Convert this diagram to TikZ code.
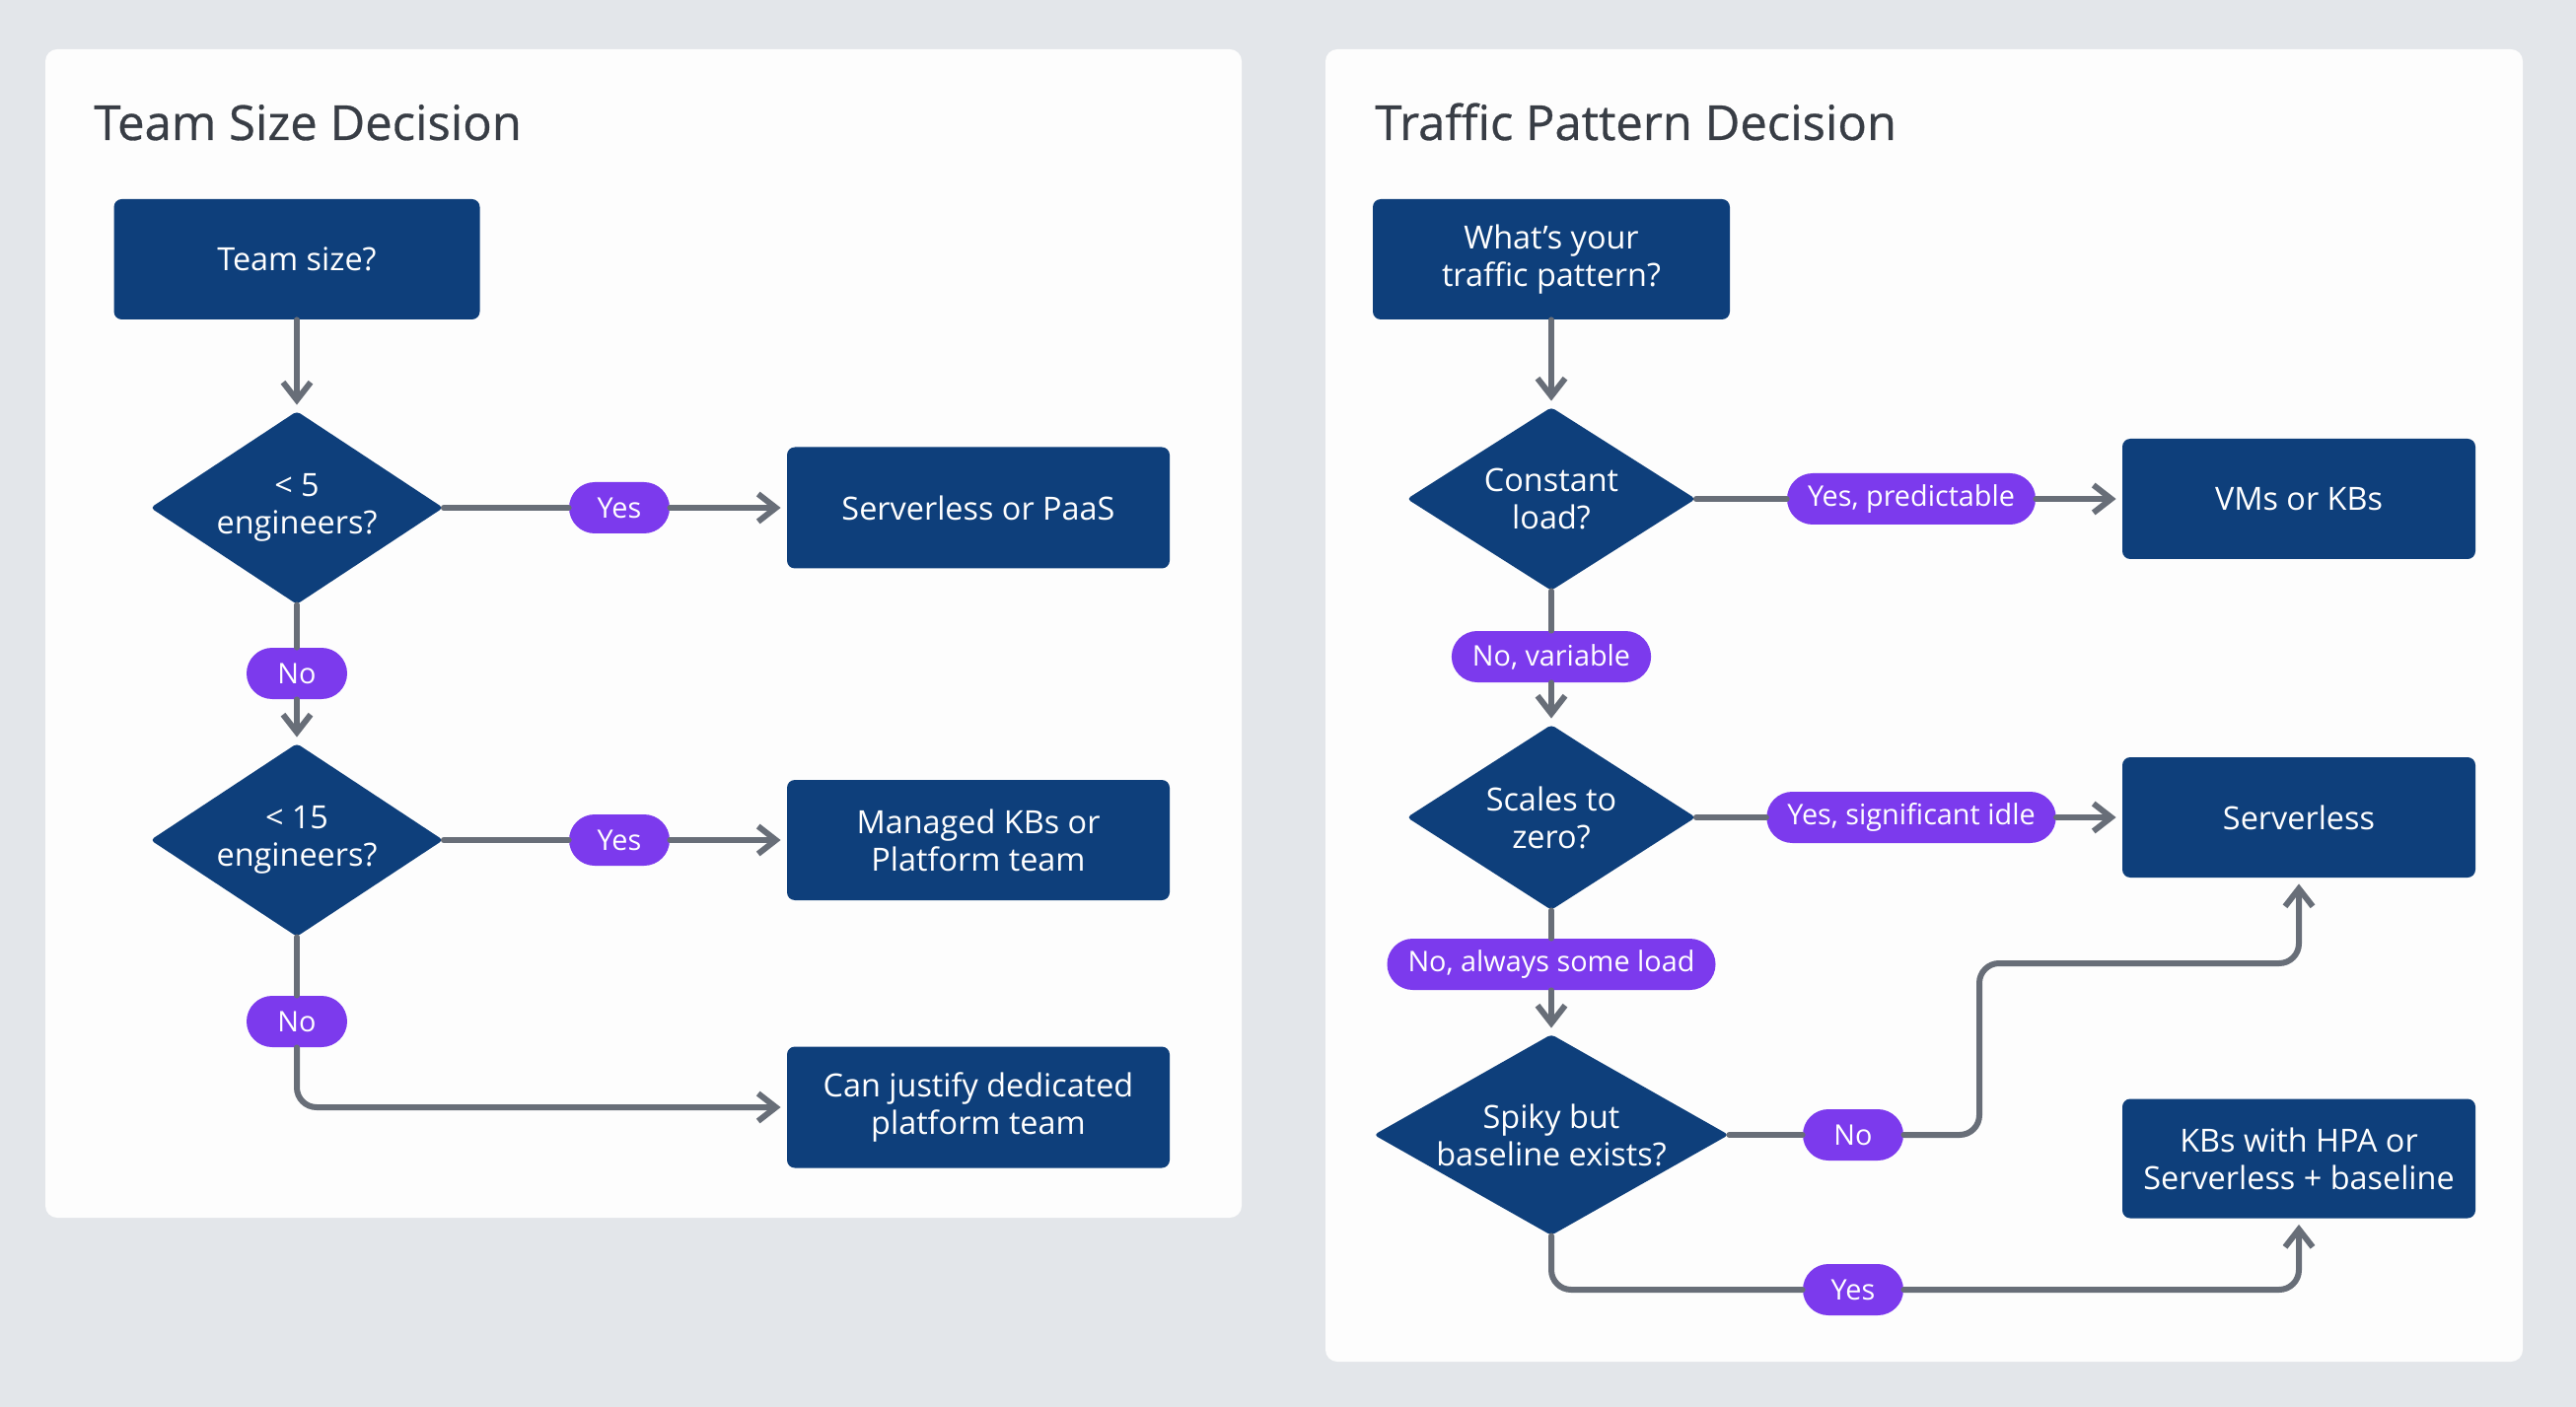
\documentclass[tikz,border=0pt]{standalone}
\usepackage{fontspec}
\setmainfont{Open Sans}
\newfontfamily\titlefont[FakeBold=0.6]{Open Sans}
\usetikzlibrary{arrows.meta,shapes.geometric}
\definecolor{bgc}{HTML}{E3E6EA}
\definecolor{panelc}{HTML}{FDFDFD}
\definecolor{navy}{HTML}{0E3F7B}
\definecolor{pillc}{HTML}{7C3AED}
\definecolor{linec}{HTML}{686E78}
\definecolor{titlec}{HTML}{383D45}
\begin{document}
\begin{tikzpicture}[x=0.5pt,y=-0.5pt,
  panel/.style={fill=panelc, draw=none, rounded corners=6pt},
  ttl/.style={anchor=base west, text=titlec, font=\titlefont\fontsize{24.5}{28}\selectfont, inner sep=0pt},
  box/.style={rectangle, fill=navy, draw=none, rounded corners=4pt, text=white, align=center,
    font=\fontsize{16.2}{19}\selectfont, inner sep=0pt},
  dia/.style={diamond, fill=navy, draw=none, rounded corners=2pt, inner sep=0pt},
  dtext/.style={text=white, align=center, font=\fontsize{16.2}{19}\selectfont, inner sep=0pt},
  pill/.style={rectangle, fill=pillc, draw=none, rounded corners=13pt, text=white,
    font=\fontsize{14.4}{16}\selectfont, minimum height=26pt, minimum width=51pt,
    inner xsep=10.5pt, inner ysep=0pt},
  ln/.style={draw=linec, line width=3pt, line cap=round, rounded corners=10pt},
  arr/.style={ln, -{Straight Barb[length=9pt,width=14pt,line width=3pt]}, shorten >=3pt},
]
\useasboundingbox (0,0) rectangle (2612,1427);
\fill[bgc] (0,0) rectangle (2612,1427);
\fill[panel] (46,50) rectangle (1259,1235);
\fill[panel] (1344,50) rectangle (2558,1381);

\node[ttl] (t1) at (95,142) {Team Size Decision};
\node[ttl] (t2) at (1394,142) {Traffic Pattern Decision};

% Left flow
\node[box, minimum width=185.5pt, minimum height=61pt] (b1) at (301,263) {Team size?};
\node[dia, minimum width=148.5pt, minimum height=98pt,
  label={[dtext]center:{< 5\\engineers?}}] (d1) at (301,515) {};
\node[pill] (y1) at (628,515) {Yes};
\node[box, minimum width=194pt, minimum height=61.5pt] (r1) at (992,515) {Serverless or PaaS};
\node[pill] (n1) at (301,683) {No};
\node[dia, minimum width=148.5pt, minimum height=98pt,
  label={[dtext]center:{< 15\\engineers?}}] (d2) at (301,852) {};
\node[pill] (y2) at (628,852) {Yes};
\node[box, minimum width=194pt, minimum height=61pt] (r2) at (992,852) {Managed KBs or\\Platform team};
\node[pill] (n2) at (301,1036) {No};
\node[box, minimum width=194pt, minimum height=61.5pt] (r3) at (992,1123) {Can justify dedicated\\platform team};

\draw[arr] (b1.south) -- (d1.north);
\draw[ln] (d1.east) -- (y1.west);
\draw[arr] (y1.east) -- (r1.west);
\draw[ln] (d1.south) -- (n1.north);
\draw[arr] (n1.south) -- (d2.north);
\draw[ln] (d2.east) -- (y2.west);
\draw[arr] (y2.east) -- (r2.west);
\draw[ln] (d2.south) -- (n2.north);
\draw[arr] (n2.south) |- (r3.west);

% Right flow
\node[box, minimum width=181pt, minimum height=61pt] (q1) at (1573,263) {What's your\\traffic pattern?};
\node[dia, minimum width=146.5pt, minimum height=93pt,
  label={[dtext]center:{Constant\\load?}}] (c1) at (1573,506) {};
\node[pill] (p1) at (1938,506) {Yes, predictable};
\node[box, minimum width=179pt, minimum height=61pt] (s1) at (2331,506) {VMs or KBs};
\node[pill] (p2) at (1573,666) {No, variable};
\node[dia, minimum width=146.5pt, minimum height=94pt,
  label={[dtext]center:{Scales to\\zero?}}] (c2) at (1573,829) {};
\node[pill] (p3) at (1938,829) {Yes, significant idle};
\node[box, minimum width=179pt, minimum height=61pt] (s2) at (2331,829) {Serverless};
\node[pill] (p4) at (1573,978) {No, always some load};
\node[dia, minimum width=180pt, minimum height=102pt,
  label={[dtext]center:{Spiky but\\baseline exists?}}] (c3) at (1573,1151) {};
\node[pill] (p5) at (1879,1151) {No};
\node[box, minimum width=179pt, minimum height=60.5pt] (s3) at (2331,1175) {KBs with HPA or\\Serverless + baseline};
\node[pill] (p6) at (1879,1308) {Yes};
\coordinate (k1) at (2007,977);

\draw[arr] (q1.south) -- (c1.north);
\draw[ln] (c1.east) -- (p1.west);
\draw[arr] (p1.east) -- (s1.west);
\draw[ln] (c1.south) -- (p2.north);
\draw[arr] (p2.south) -- (c2.north);
\draw[ln] (c2.east) -- (p3.west);
\draw[arr] (p3.east) -- (s2.west);
\draw[ln] (c2.south) -- (p4.north);
\draw[arr] (p4.south) -- (c3.north);
\draw[ln] (c3.east) -- (p5.west);
\draw[arr] (p5.east) -| (k1) -| (s2.south);
\draw[ln] (c3.south) |- (p6.west);
\draw[arr] (p6.east) -| (s3.south);
\end{tikzpicture}
\end{document}
